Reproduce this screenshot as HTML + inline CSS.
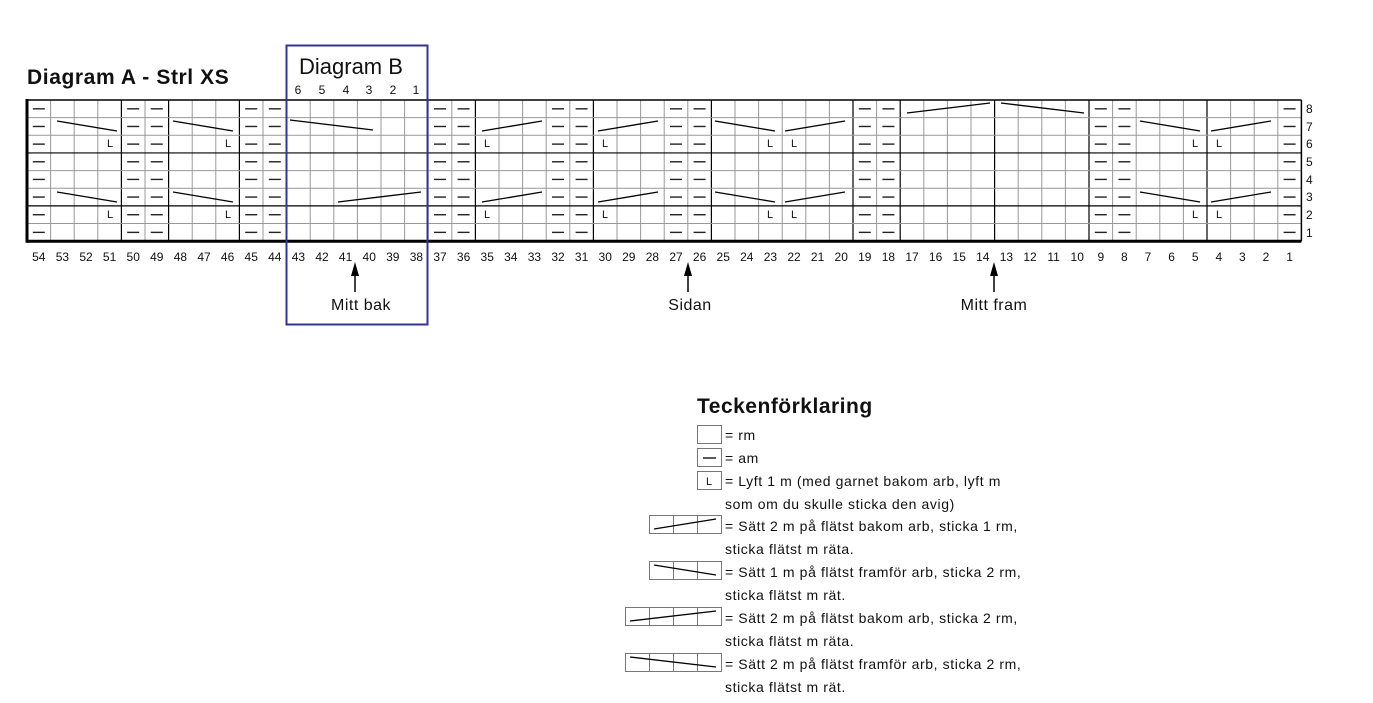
<!DOCTYPE html>
<html><head><meta charset="utf-8"><style>
html,body{margin:0;padding:0;background:#fff;width:1373px;height:703px;overflow:hidden}
svg{display:block}
text{font-family:"Liberation Sans","DejaVu Sans",sans-serif;fill:#111}
.n{font-size:12px;text-anchor:middle;letter-spacing:0}
.L{font-size:11px;text-anchor:middle}
.lg{font-size:14px;letter-spacing:0.6px}
</style></head><body>
<svg id="s" width="1373" height="703" viewBox="0 0 1373 703" xmlns="http://www.w3.org/2000/svg">
<g id="grid"></g>
<text x="27" y="84" style="font-size:21px;font-weight:bold;letter-spacing:0.6px">Diagram A - Strl XS</text>
<text x="299" y="74" style="font-size:22px">Diagram B</text>
<g class="n">
<text x="298" y="94">6</text><text x="322" y="94">5</text><text x="346" y="94">4</text><text x="369" y="94">3</text><text x="393" y="94">2</text><text x="416" y="94">1</text>
</g>
<g class="L">
<text x="110" y="147">L</text><text x="228" y="147">L</text><text x="487" y="147">L</text><text x="605" y="147">L</text><text x="770" y="147">L</text><text x="794" y="147">L</text><text x="1195" y="147">L</text><text x="1219" y="147">L</text>
<text x="110" y="218">L</text><text x="228" y="218">L</text><text x="487" y="218">L</text><text x="605" y="218">L</text><text x="770" y="218">L</text><text x="794" y="218">L</text><text x="1195" y="218">L</text><text x="1219" y="218">L</text>
</g>
<g class="n" style="text-anchor:start">
<text x="1306" y="113">8</text><text x="1306" y="131">7</text><text x="1306" y="148">6</text><text x="1306" y="166">5</text><text x="1306" y="184">4</text><text x="1306" y="201">3</text><text x="1306" y="219">2</text><text x="1306" y="237">1</text>
</g>
<g class="n">
<text x="38.8" y="261">54</text><text x="62.4" y="261">53</text><text x="86" y="261">52</text><text x="109.6" y="261">51</text><text x="133.2" y="261">50</text><text x="156.8" y="261">49</text><text x="180.4" y="261">48</text><text x="204" y="261">47</text><text x="227.6" y="261">46</text><text x="251.2" y="261">45</text><text x="274.8" y="261">44</text><text x="298.4" y="261">43</text><text x="322" y="261">42</text><text x="345.6" y="261">41</text><text x="369.2" y="261">40</text><text x="392.8" y="261">39</text><text x="416.4" y="261">38</text><text x="440" y="261">37</text><text x="463.6" y="261">36</text><text x="487.2" y="261">35</text><text x="510.8" y="261">34</text><text x="534.4" y="261">33</text><text x="558" y="261">32</text><text x="581.6" y="261">31</text><text x="605.2" y="261">30</text><text x="628.8" y="261">29</text><text x="652.4" y="261">28</text><text x="676" y="261">27</text><text x="699.6" y="261">26</text><text x="723.2" y="261">25</text><text x="746.8" y="261">24</text><text x="770.4" y="261">23</text><text x="794" y="261">22</text><text x="817.6" y="261">21</text><text x="841.2" y="261">20</text><text x="864.8" y="261">19</text><text x="888.4" y="261">18</text><text x="912" y="261">17</text><text x="935.6" y="261">16</text><text x="959.2" y="261">15</text><text x="982.8" y="261">14</text><text x="1006.4" y="261">13</text><text x="1030" y="261">12</text><text x="1053.6" y="261">11</text><text x="1077.2" y="261">10</text><text x="1100.8" y="261">9</text><text x="1124.4" y="261">8</text><text x="1148" y="261">7</text><text x="1171.6" y="261">6</text><text x="1195.2" y="261">5</text><text x="1218.8" y="261">4</text><text x="1242.4" y="261">3</text><text x="1266" y="261">2</text><text x="1289.6" y="261">1</text>
</g>
<g stroke="#000" stroke-width="1.5">
<line x1="355" y1="270" x2="355" y2="292"/><line x1="688" y1="270" x2="688" y2="292"/><line x1="994" y1="270" x2="994" y2="292"/>
</g>
<g fill="#000">
<polygon points="351,276 359,276 355,262"/><polygon points="684,276 692,276 688,262"/><polygon points="990,276 998,276 994,262"/>
</g>
<text x="361" y="310" style="font-size:16px;text-anchor:middle;letter-spacing:0.5px">Mitt bak</text>
<text x="690" y="310" style="font-size:16px;text-anchor:middle;letter-spacing:0.5px">Sidan</text>
<text x="994" y="310" style="font-size:16px;text-anchor:middle;letter-spacing:0.5px">Mitt fram</text>
<rect x="286.5" y="45.5" width="141" height="279" fill="none" stroke="#333399" stroke-width="2"/>

<text x="697" y="413" style="font-size:21px;font-weight:bold;letter-spacing:0.5px">Teckenförklaring</text>
<g fill="none" stroke="#777" stroke-width="1">
<rect x="697.5" y="425.5" width="24" height="18"/>
<rect x="697.5" y="448.5" width="24" height="18"/>
<rect x="697.5" y="471.5" width="24" height="18"/>
<rect x="649.5" y="515.5" width="72" height="18"/><line x1="673.5" y1="515" x2="673.5" y2="534"/><line x1="697.5" y1="515" x2="697.5" y2="534"/>
<rect x="649.5" y="561.5" width="72" height="18"/><line x1="673.5" y1="561" x2="673.5" y2="580"/><line x1="697.5" y1="561" x2="697.5" y2="580"/>
<rect x="625.5" y="607.5" width="96" height="18"/><line x1="649.5" y1="607" x2="649.5" y2="626"/><line x1="673.5" y1="607" x2="673.5" y2="626"/><line x1="697.5" y1="607" x2="697.5" y2="626"/>
<rect x="625.5" y="653.5" width="96" height="18"/><line x1="649.5" y1="653" x2="649.5" y2="672"/><line x1="673.5" y1="653" x2="673.5" y2="672"/><line x1="697.5" y1="653" x2="697.5" y2="672"/>
</g>
<g stroke="#000" stroke-width="1.3">
<line x1="703" y1="458" x2="716" y2="458"/>
<line x1="654" y1="529" x2="716" y2="519"/>
<line x1="654" y1="565" x2="716" y2="575"/>
<line x1="630" y1="621" x2="716" y2="611"/>
<line x1="630" y1="657" x2="716" y2="667"/>
</g>
<text x="709" y="485" class="L">L</text>
<g class="lg">
<text x="725" y="440">= rm</text>
<text x="725" y="463">= am</text>
<text x="725" y="486">= Lyft 1 m (med garnet bakom arb, lyft m</text>
<text x="725" y="509">som om du skulle sticka den avig)</text>
<text x="725" y="531">= Sätt 2 m på flätst bakom arb, sticka 1 rm,</text>
<text x="725" y="554">sticka flätst m räta.</text>
<text x="725" y="577">= Sätt 1 m på flätst framför arb, sticka 2 rm,</text>
<text x="725" y="600">sticka flätst m rät.</text>
<text x="725" y="623">= Sätt 2 m på flätst bakom arb, sticka 2 rm,</text>
<text x="725" y="646">sticka flätst m räta.</text>
<text x="725" y="669">= Sätt 2 m på flätst framför arb, sticka 2 rm,</text>
<text x="725" y="692">sticka flätst m rät.</text>
</g>
</svg>
<script>
(function(){
var g=document.getElementById('grid'),NS='http://www.w3.org/2000/svg';
function L(x1,y1,x2,y2,c,w){var l=document.createElementNS(NS,'line');l.setAttribute('x1',x1);l.setAttribute('y1',y1);l.setAttribute('x2',x2);l.setAttribute('y2',y2);l.setAttribute('stroke',c);l.setAttribute('stroke-width',w);g.appendChild(l);}
var X0=27,CW=23.6,Y0=100,RH=17.65,N=54;
var blackV=[4,6,9,19,24,29,35,37,41,45,50];
for(var i=1;i<N;i++){var b=blackV.indexOf(i)>=0;L(X0+i*CW,Y0,X0+i*CW,Y0+8*RH,b?'#000':'#999',b?1.2:1);}
for(var r=1;r<8;r++){var b=(r==3||r==6);L(X0,Y0+r*RH,X0+N*CW,Y0+r*RH,b?'#000':'#999',b?1.2:1);}
L(X0,Y0,X0+N*CW,Y0,'#000',1.5);
L(X0,Y0+8*RH,X0+N*CW,Y0+8*RH,'#000',3);
L(X0,Y0-1,X0,Y0+8*RH+1.5,'#000',3);
L(X0+N*CW,Y0,X0+N*CW,Y0+8*RH,'#000',1.5);
var purl=[54,50,49,45,44,37,36,32,31,27,26,19,18,9,8,1];
purl.forEach(function(n){var cx=X0+(54-n)*CW+CW/2;for(var r=0;r<8;r++){var cy=Y0+r*RH+RH/2;L(cx-6,cy,cx+6,cy,'#222',1.4);}});
var cab=[[57,121,117,131],[173,121,233,131],[482,131,542,121],[598,131,658,121],[715,121,775,131],[785,131,845,121],[1140,121,1200,131],[1211,131,1271,121]];
cab.forEach(function(c){L(c[0],c[1],c[2],c[3],'#000',1.3);L(c[0],c[1]+71,c[2],c[3]+71,'#000',1.3);});
L(290,120,373,130,'#000',1.3);L(338,202,421,192,'#000',1.3);
L(907,113,990,103,'#000',1.3);L(1001,103,1084,113,'#000',1.3);
})();
</script>
</body></html>
